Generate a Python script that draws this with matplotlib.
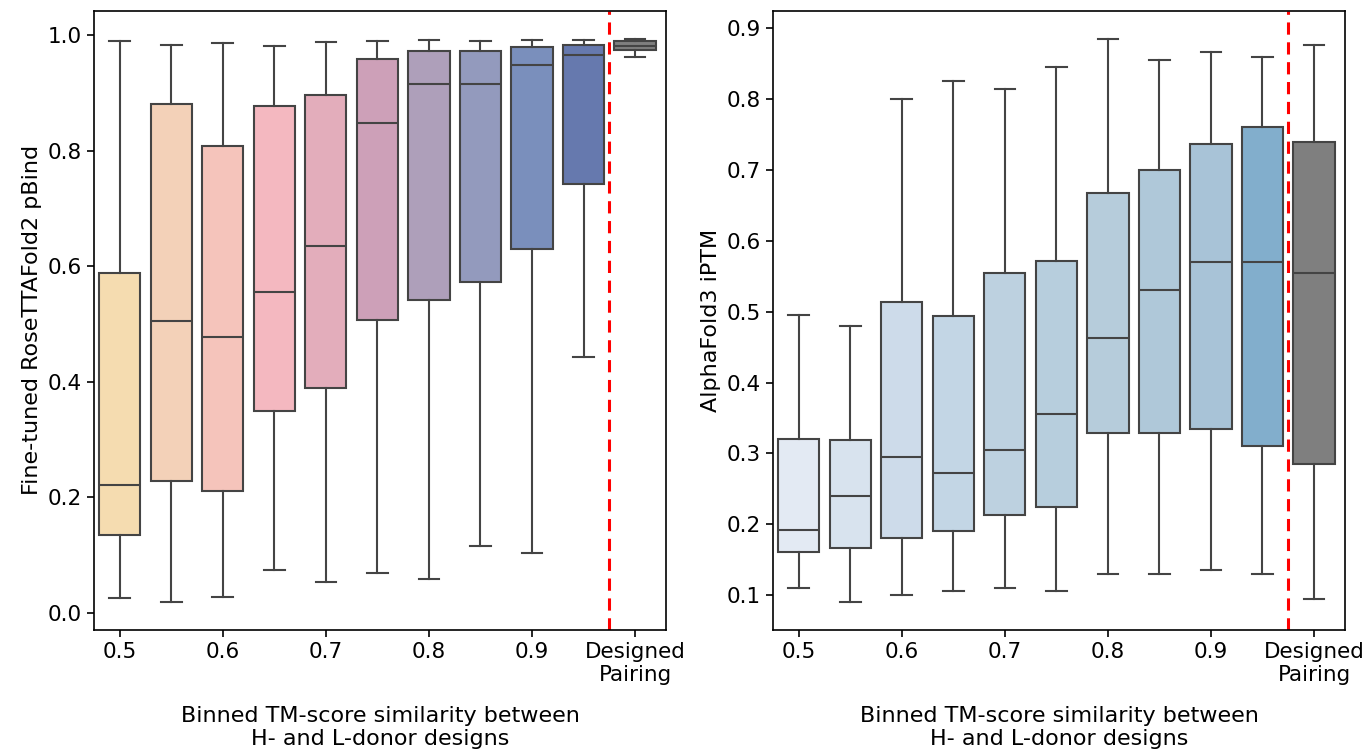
import matplotlib
matplotlib.use("Agg")
import matplotlib.pyplot as plt

categories = ["0.5", "0.55", "0.6", "0.65", "0.7", "0.75", "0.8", "0.85", "0.9", "0.95", "Designed\nPairing"]
tick_labels = ["0.5", "0.6", "0.7", "0.8", "0.9", "Designed\nPairing"]
tick_idx = [0, 2, 4, 6, 8, 10]

# Left: Fine-tuned RoseTTAFold2 pBind  (whislo, q1, med, q3, whishi)
rf_whislo = [0.026, 0.019, 0.028, 0.074, 0.054, 0.069, 0.058, 0.115, 0.103, 0.443, 0.962]
rf_q1     = [0.135, 0.229, 0.211, 0.349, 0.390, 0.506, 0.541, 0.573, 0.629, 0.742, 0.974]
rf_med    = [0.222, 0.505, 0.477, 0.556, 0.635, 0.847, 0.915, 0.916, 0.948, 0.965, 0.981]
rf_q3     = [0.588, 0.880, 0.808, 0.877, 0.897, 0.958, 0.972, 0.972, 0.980, 0.983, 0.989]
rf_whishi = [0.989, 0.983, 0.986, 0.981, 0.987, 0.990, 0.991, 0.989, 0.992, 0.991, 0.993]

# Right: AlphaFold3 iPTM
af_whislo = [0.110, 0.090, 0.100, 0.105, 0.110, 0.105, 0.130, 0.130, 0.135, 0.130, 0.095]
af_q1     = [0.161, 0.166, 0.181, 0.190, 0.213, 0.224, 0.329, 0.329, 0.334, 0.310, 0.285]
af_med    = [0.192, 0.240, 0.295, 0.272, 0.305, 0.356, 0.463, 0.530, 0.570, 0.570, 0.555]
af_q3     = [0.320, 0.319, 0.513, 0.494, 0.555, 0.572, 0.667, 0.700, 0.737, 0.761, 0.740]
af_whishi = [0.496, 0.480, 0.800, 0.826, 0.815, 0.845, 0.885, 0.855, 0.866, 0.860, 0.876]

rf_colors = ["#f5dcb0", "#f3d1b8", "#f5c4bb", "#f4b8c0", "#e3adbb", "#cda0b8",
             "#ae9fba", "#939abd", "#7a8fbc", "#6679ae", "#7f7f7f"]
af_colors = ["#e3eaf3", "#d8e3ee", "#cddbea", "#c3d6e5", "#bdd1e0", "#b7cedd",
             "#b6ccdb", "#afc8d9", "#a8c3d7", "#82aecc", "#7f7f7f"]

FS_T = 15.5
FS_L = 16
LC = "#444444"

fig = plt.figure(figsize=(13.7, 7.54), dpi=100)
ax1 = fig.add_axes([0.0686, 0.1645, 0.4175, 0.8213])
ax2 = fig.add_axes([0.5642, 0.1645, 0.4175, 0.8213])


def draw(ax, lo, q1, med, q3, hi, colors, ylabel, yticks, ylim):
    stats = []
    for i in range(len(categories)):
        stats.append(dict(whislo=lo[i], q1=q1[i], med=med[i], q3=q3[i], whishi=hi[i], fliers=[], label=categories[i]))
    bp = ax.bxp(stats, positions=list(range(len(categories))), widths=0.8, capwidths=0.4,
                patch_artist=True, showfliers=False,
                boxprops=dict(edgecolor=LC, linewidth=1.5),
                whiskerprops=dict(color=LC, linewidth=1.5),
                capprops=dict(color=LC, linewidth=1.5),
                medianprops=dict(color=LC, linewidth=1.5))
    for patch, c in zip(bp["boxes"], colors):
        patch.set_facecolor(c)
    ax.axvline(9.5, color="red", linestyle="--", linewidth=2.2, dashes=(4, 2.5))
    ax.set_xlim(-0.5, 10.6)
    ax.set_ylim(*ylim)
    ax.set_xticks(tick_idx)
    ax.set_xticklabels(tick_labels, fontsize=FS_T)
    ax.set_yticks(yticks)
    ax.set_yticklabels([f"{t:.1f}" for t in yticks], fontsize=FS_T)
    ax.set_xlabel("Binned TM-score similarity between\nH- and L-donor designs", fontsize=FS_L, labelpad=15)
    ax.set_ylabel(ylabel, fontsize=FS_L)
    ax.tick_params(length=5, width=1.2)
    for s in ax.spines.values():
        s.set_linewidth(1.2)


draw(ax1, rf_whislo, rf_q1, rf_med, rf_q3, rf_whishi, rf_colors,
     "Fine-tuned RoseTTAFold2 pBind", [0.0, 0.2, 0.4, 0.6, 0.8, 1.0], (-0.0295, 1.042))
draw(ax2, af_whislo, af_q1, af_med, af_q3, af_whishi, af_colors,
     "AlphaFold3 iPTM", [0.1, 0.2, 0.3, 0.4, 0.5, 0.6, 0.7, 0.8, 0.9], (0.0506, 0.925))

fig.savefig("out.png", dpi=100)
